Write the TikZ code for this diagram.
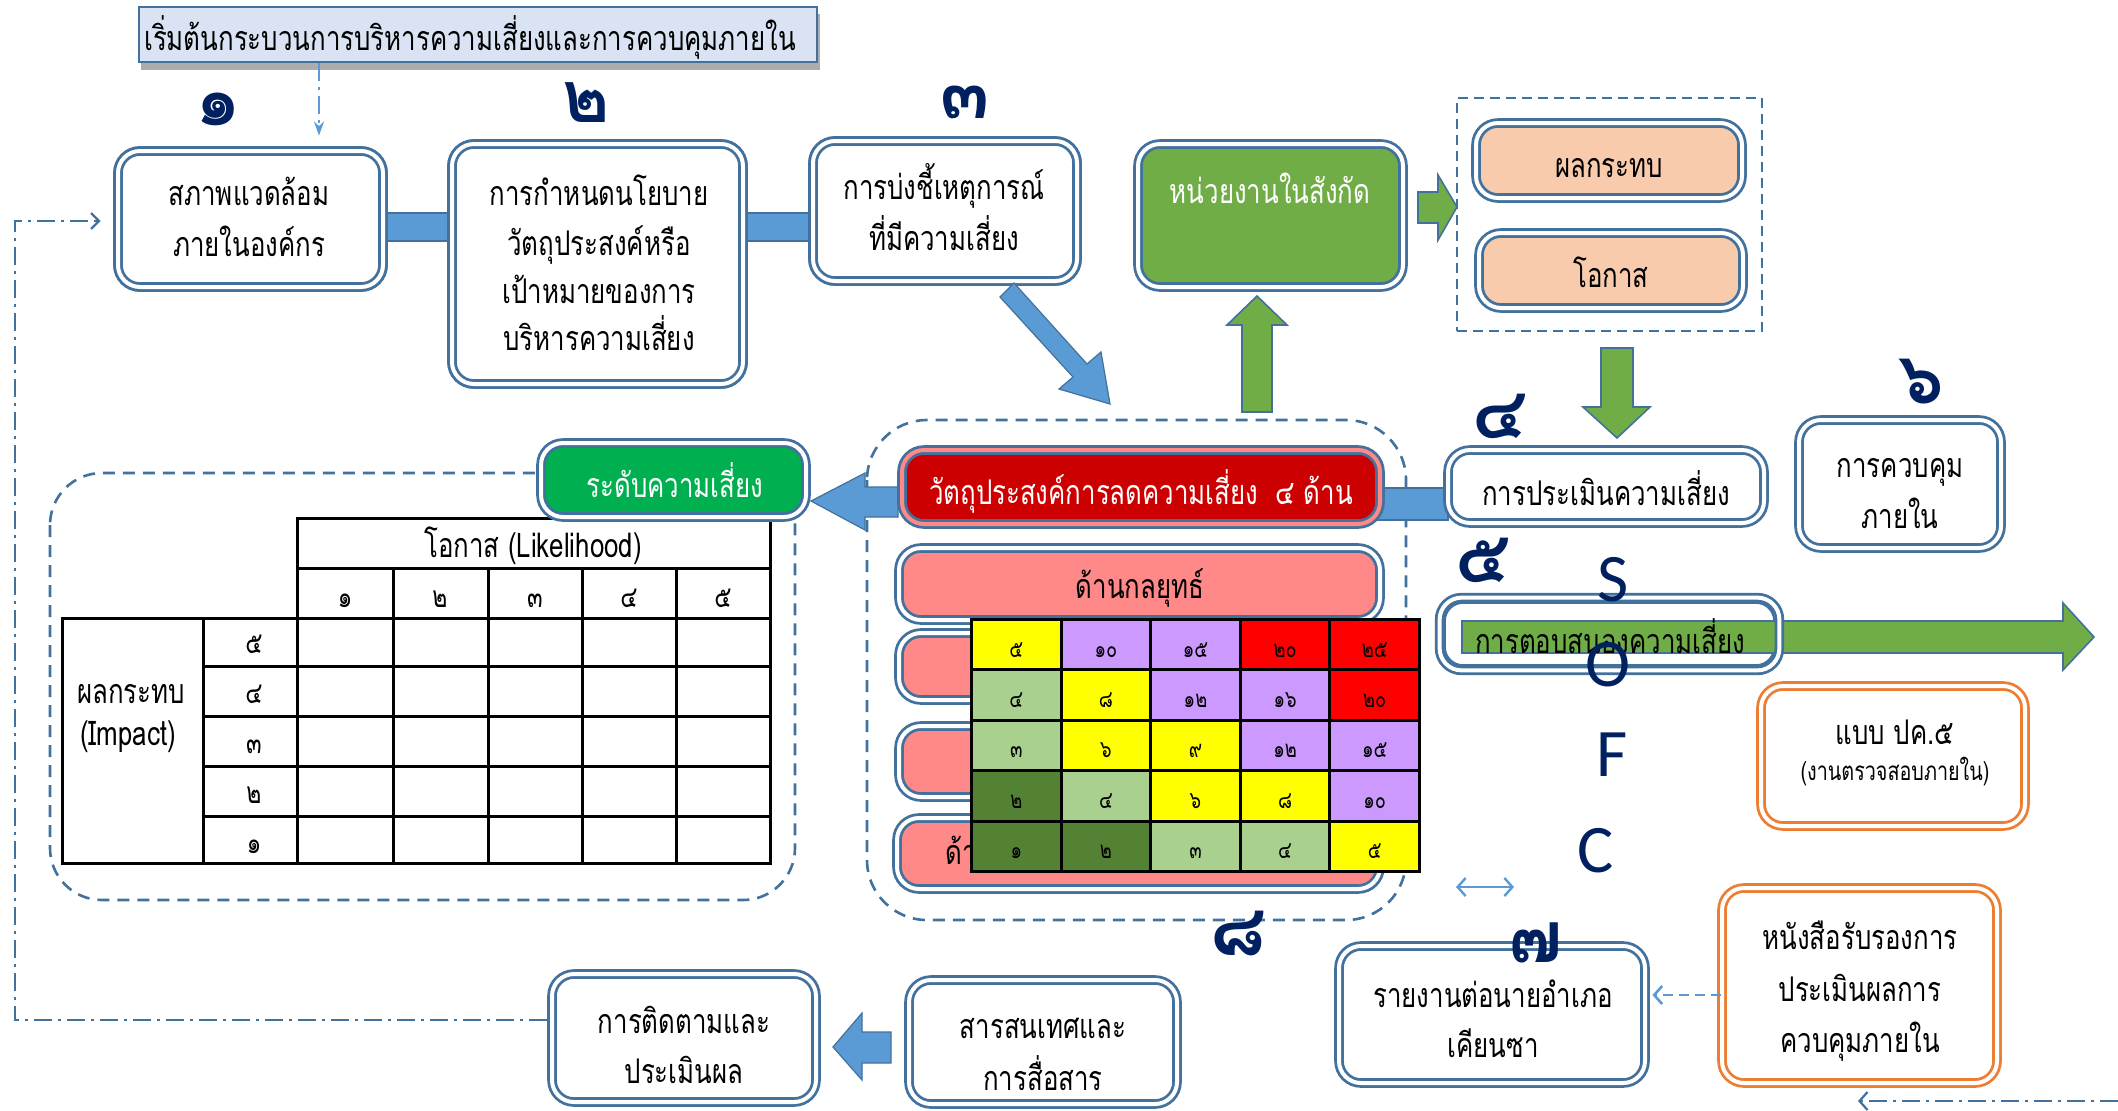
\documentclass[tikz,border=0pt]{standalone}
\usepackage{fontspec}
\setmainfont{Liberation Sans}
\newfontfamily\thfont[Script=Thai,FakeStretch=0.76]{Loma}
\newfontfamily\thnum[Script=Thai]{Loma}
\newfontfamily\latfont{Carlito}
\usetikzlibrary{fit,calc,arrows.meta}
\definecolor{bord}{RGB}{65,113,156}
\definecolor{lblue}{RGB}{91,155,213}
\definecolor{gr}{RGB}{112,173,71}
\definecolor{gr2}{RGB}{0,176,80}
\definecolor{redb}{RGB}{204,0,0}
\definecolor{pinkb}{RGB}{255,137,137}
\definecolor{peach}{RGB}{248,203,173}
\definecolor{orng}{RGB}{237,125,49}
\definecolor{navy}{RGB}{0,32,96}
\definecolor{titlef}{RGB}{218,227,243}
\definecolor{myel}{RGB}{255,255,0}
\definecolor{mpur}{RGB}{204,153,255}
\definecolor{mred}{RGB}{255,0,0}
\definecolor{mlg}{RGB}{169,208,142}
\definecolor{mdg}{RGB}{84,130,53}
\begin{document}
\begin{tikzpicture}[x=0.5pt,y=-0.5pt,
  tx/.style={font=\thfont\fontsize{17}{20}\selectfont, inner sep=0pt, anchor=base},
  box/.style={draw=bord, double=white, double distance=2pt, line width=1.4pt, rounded corners=11pt, fill=white, inner sep=0pt},
  obox/.style={box, draw=orng},
  num/.style={font=\thnum\bfseries\fontsize{36}{36}\selectfont, text=navy, inner sep=0pt, anchor=base},
  letter/.style={font=\latfont\fontsize{34}{34}\selectfont, text=navy, inner sep=0pt},
  barshape/.style={fill=lblue, draw=bord, line width=0.6pt},
  gshape/.style={fill=gr, draw=bord, line width=0.8pt},
  dashreg/.style={draw=bord, line width=1.3pt, dash pattern=on 6pt off 4pt},
  dd/.style={draw=bord, line width=1.1pt, dash pattern=on 9pt off 3pt on 1.5pt off 3pt},
  tcell/.style={draw=black, line width=1.5pt, inner sep=0pt, minimum width=44.8pt, minimum height=25.2pt, anchor=north west},
  mtxt/.style={font=\thfont\fontsize{12}{12}\selectfont, inner sep=0pt, anchor=base},
  ttxt/.style={font=\thfont\fontsize{15}{15}\selectfont, inner sep=0pt, anchor=base}
]
\useasboundingbox[fill=white] (0,0) rectangle (2118,1110);

% ---------- title ----------
\fill[gray!65] (141,14) rectangle (820,70);
\node[draw=bord, line width=1pt, fill=titlef, fit={(139,7)(817,62)}, inner sep=0pt] (title) {};
\node[tx] (titletext) at (470,50) {เริ่มต้นกระบวนการบริหารความเสี่ยงและการควบคุมภายใน};

% ---------- top row ----------
\node[box, fit={(118,151)(383,287)}] (b1) {};
\node[box, fit={(452,144)(743,384)}] (b2) {};
\node[box, fit={(813,141)(1077,281)}] (b3) {};
\path[barshape] ([yshift=7pt]b1.east |- 0,227) rectangle ([yshift=-7pt]b2.west |- 0,227);
\path[barshape] ([yshift=7pt]b2.east |- 0,227) rectangle ([yshift=-7pt]b3.west |- 0,227);
% boxes drawn again over the bars
\node[box, fit={(118,151)(383,287)}] (b1r) {};
\node[box, fit={(452,144)(743,384)}] (b2r) {};
\node[box, fit={(813,141)(1077,281)}] (b3r) {};
\node[tx] (b1a) at (249,205) {สภาพแวดล้อม};
\node[tx] (b1b) at (249,256) {ภายในองค์กร};
\node[tx] (b2a) at (599,205) {การกำหนดนโยบาย};
\node[tx] (b2b) at (599,255) {วัตถุประสงค์หรือ};
\node[tx] (b2c) at (599,303) {เป้าหมายของการ};
\node[tx] (b2d) at (599,350) {บริหารความเสี่ยง};
\node[tx] (b3a) at (944,199) {การบ่งชี้เหตุการณ์};
\node[tx] (b3b) at (944,250) {ที่มีความเสี่ยง};

\node[num] (n1) at (218,125) {๑};
\node[num] (n2) at (586,122) {๒};
\node[num] (n3) at (965,118) {๓};

% title -> box1
\draw[dd, draw=lblue, -{Stealth[length=7pt,width=5pt]}, shorten >=7pt] (title.south -| 319,0) -- (b1.north -| 319,0);

% feedback loop
\coordinate (fbc) at (15,1020);
\draw[dd, -{Straight Barb[length=4pt,width=8pt]}, shorten >=8pt] (fbc -| 547,0) -- (fbc) -- (15,221) -- (b1.west |- 0,221);

% diagonal blue arrow
\path[barshape] (1014,283) -- (1087,364) -- (1101,352) -- (1110,404) -- (1059,389) -- (1073,377) -- (1000,297) -- cycle;

% ---------- upper right ----------
\node[box, fill=gr, fit={(1138,144)(1403,287)}] (gb) {};
\node[tx, text=white] (gbt) at (1270,203) {หน่วยงานในสังกัด};
\path[gshape] (1418,192) -- (1438,192) -- (1438,175) -- (1457,207) -- (1438,240) -- (1438,223) -- (1418,223) -- cycle;
\node[draw=bord, line width=1.2pt, dash pattern=on 5pt off 3pt, fit={(1457,98)(1762,331)}, inner sep=0pt] (dbox) {};
\node[box, fill=peach, fit={(1476,123)(1742,198)}] (pk1) {};
\node[tx] (pk1t) at (1609,177) {ผลกระทบ};
\node[box, fill=peach, fit={(1479,233)(1743,308)}] (pk2) {};
\node[tx] (pk2t) at (1611,287) {โอกาส};
% down green arrow
\path[gshape] (1601,348) -- (1633,348) -- (1633,407) -- (1650,407) -- (1617,438) -- (1583,407) -- (1601,407) -- cycle;
% up green arrow
\path[gshape] (1242,412) -- (1242,325) -- (1227,325) -- (1257,296) -- (1287,325) -- (1272,325) -- (1272,412) -- cycle;

% ---------- center region ----------
\draw[dashreg, rounded corners=30pt] (867,420) rectangle (1406,920);
\path[barshape] (898,487) -- (865,487) -- (865,473) -- (811,501) -- (865,530) -- (865,517) -- (898,517) -- cycle;
\path[barshape] (1375,488) rectangle (1448,520);
\node[box, fill=redb, double=pinkb, fit={(902,450)(1380,524)}] (red) {};
\node[tx, text=white] (redt) at (1141,504) {วัตถุประสงค์การลดความเสี่ยง\ \ ๔ ด้าน};
\node[box, fill=pinkb, fit={(899,548)(1380,620)}] (p1) {};
\node[tx] (p1t) at (1140,598) {ด้านกลยุทธ์};
\node[box, fill=pinkb, fit={(899,633)(1380,700)}] (p2) {};
\node[box, fill=pinkb, fit={(899,726)(1380,797)}] (p3) {};
\node[box, fill=pinkb, fit={(897,818)(1380,889)}] (p4) {};
\node[tx, anchor=base west] (p4t) at (945,864) {ด้าน};

% risk matrix
\foreach \r/\c/\v/\col in {
 1/1/๕/myel, 1/2/๑๐/mpur, 1/3/๑๕/mpur, 1/4/๒๐/mred, 1/5/๒๕/mred,
 2/1/๔/mlg, 2/2/๘/myel, 2/3/๑๒/mpur, 2/4/๑๖/mpur, 2/5/๒๐/mred,
 3/1/๓/mlg, 3/2/๖/myel, 3/3/๙/myel, 3/4/๑๒/mpur, 3/5/๑๕/mpur,
 4/1/๒/mdg, 4/2/๔/mlg, 4/3/๖/myel, 4/4/๘/myel, 4/5/๑๐/mpur,
 5/1/๑/mdg, 5/2/๒/mdg, 5/3/๓/mlg, 5/4/๔/mlg, 5/5/๕/myel}{
  \node[tcell, fill=\col] (m\r\c) at ({970+(\c-1)*89.6},{618+(\r-1)*50.4}) {};
  \node[mtxt] (mt\r\c) at ($(m\r\c.north)+(0,39)$) {\v};
}

% ---------- left table region ----------
\draw[dashreg, rounded corners=26pt] (50,473) rectangle (795,900);
\fill[white] (62,518) rectangle (770,863);
\draw[black, line width=1.5pt] (297,618) -- (297,518) -- (770,518) -- (770,863) -- (62,863) -- (62,618) -- (770,618);
\draw[black, line width=1.5pt] (297,568) -- (770,568);
\foreach \xx in {393,488,582,676} {\draw[black, line width=1.5pt] (\xx,568) -- (\xx,863);}
\draw[black, line width=1.5pt] (203,618) -- (203,863);
\draw[black, line width=1.5pt] (297,618) -- (297,863);
\foreach \yy in {666,716,766,816} {\draw[black, line width=1.5pt] (203,\yy) -- (770,\yy);}
\node[tx] (lk) at (533,557) {โอกาส (Likelihood)};
\foreach \i/\xx/\v in {1/345/๑, 2/440/๒, 3/535/๓, 4/629/๔, 5/723/๕} {\node[ttxt] (cn\i) at (\xx,607) {\v};}
\foreach \i/\yy/\v in {5/653/๕, 4/703/๔, 3/753/๓, 2/803/๒, 1/853/๑} {\node[ttxt] (rn\i) at (254,\yy) {\v};}
\node[tx] (imp1) at (131,703) {ผลกระทบ};
\node[tx] (imp2) at (128,745) {(Impact)};

\node[box, fill=gr2, fit={(541,443)(806,517)}] (lvl) {};
\node[tx, text=white] (lvlt) at (675,497) {ระดับความเสี่ยง};

% ---------- right middle ----------
\node[box, fit={(1448,450)(1764,523)}] (ass) {};
\node[tx] (asst) at (1606,505) {การประเมินความเสี่ยง};
\node[box, fit={(1799,420)(2001,548)}] (ctl) {};
\node[tx] (ctla) at (1900,477) {การควบคุม};
\node[tx] (ctlb) at (1900,528) {ภายใน};
\node[num] (n4) at (1500,438) {๔};
\node[num] (n6) at (1921,403) {๖};
\node[num] (n5) at (1483,582) {๕};

\node[box, fit={(1441,599)(1778,669)}] (resp) {};
\path[gshape] (1462,621) -- (2063,621) -- (2063,603) -- (2094,637) -- (2063,670) -- (2063,653) -- (1462,653) -- cycle;
\draw[draw=bord, double=white, double distance=2pt, line width=1.4pt, rounded corners=11pt] (resp.north west) rectangle (resp.south east);
\node[tx] (respt) at (1610,653) {การตอบสนองความเสี่ยง};
\node[letter] (lS) at (1613,580) {S};
\node[letter] (lO) at (1608,665) {O};
\node[letter] (lF) at (1612,755) {F};
\node[letter] (lC) at (1596,851) {C};

\node[obox, fit={(1761,686)(2025,826)}] (pk5) {};
\node[tx] (pk5a) at (1895,744) {แบบ ปค.๕};
\node[tx, font=\thfont\fontsize{13}{14}\selectfont] (pk5b) at (1895,780) {(งานตรวจสอบภายใน)};
\node[obox, fit={(1722,888)(1997,1083)}] (cert) {};
\node[tx] (certa) at (1860,949) {หนังสือรับรองการ};
\node[tx] (certb) at (1860,1001) {ประเมินผลการ};
\node[tx] (certc) at (1860,1052) {ควบคุมภายใน};
\node[box, fit={(1339,946)(1645,1083)}] (rep) {};
\node[tx] (repa) at (1493,1007) {รายงานต่อนายอำเภอ};
\node[tx] (repb) at (1493,1057) {เคียนซา};
\node[num] (n7) at (1536,962) {๗};
\node[num] (n8) at (1238,955) {๘};

\coordinate (dal) at (1456,887);
\coordinate (dar) at (1514,887);
\draw[lblue, line width=1.2pt, {Straight Barb[length=4pt,width=9pt]}-{Straight Barb[length=4pt,width=9pt]}] (dal) -- (dar);
\draw[lblue, line width=1.3pt, dash pattern=on 5pt off 3pt, -{Straight Barb[length=4pt,width=9pt]}] (cert.west |- 0,995) -- ([xshift=3pt]rep.east |- 0,995);
\coordinate (brs) at (2118,1101);
\coordinate (bre) at (1858,1101);
\draw[dd, -{Straight Barb[length=4pt,width=9pt]}] (brs) -- (bre);

% ---------- bottom ----------
\node[box, fit={(552,974)(816,1102)}] (mon) {};
\node[tx] (mona) at (684,1033) {การติดตามและ};
\node[tx] (monb) at (684,1083) {ประเมินผล};
\node[box, fit={(909,980)(1177,1104)}] (info) {};
\node[tx] (infoa) at (1043,1038) {สารสนเทศและ};
\node[tx] (infob) at (1043,1090) {การสื่อสาร};
\path[barshape] (891,1032) -- (862,1032) -- (862,1013) -- (833,1047) -- (862,1080) -- (862,1063) -- (891,1063) -- cycle;
\end{tikzpicture}
\end{document}
